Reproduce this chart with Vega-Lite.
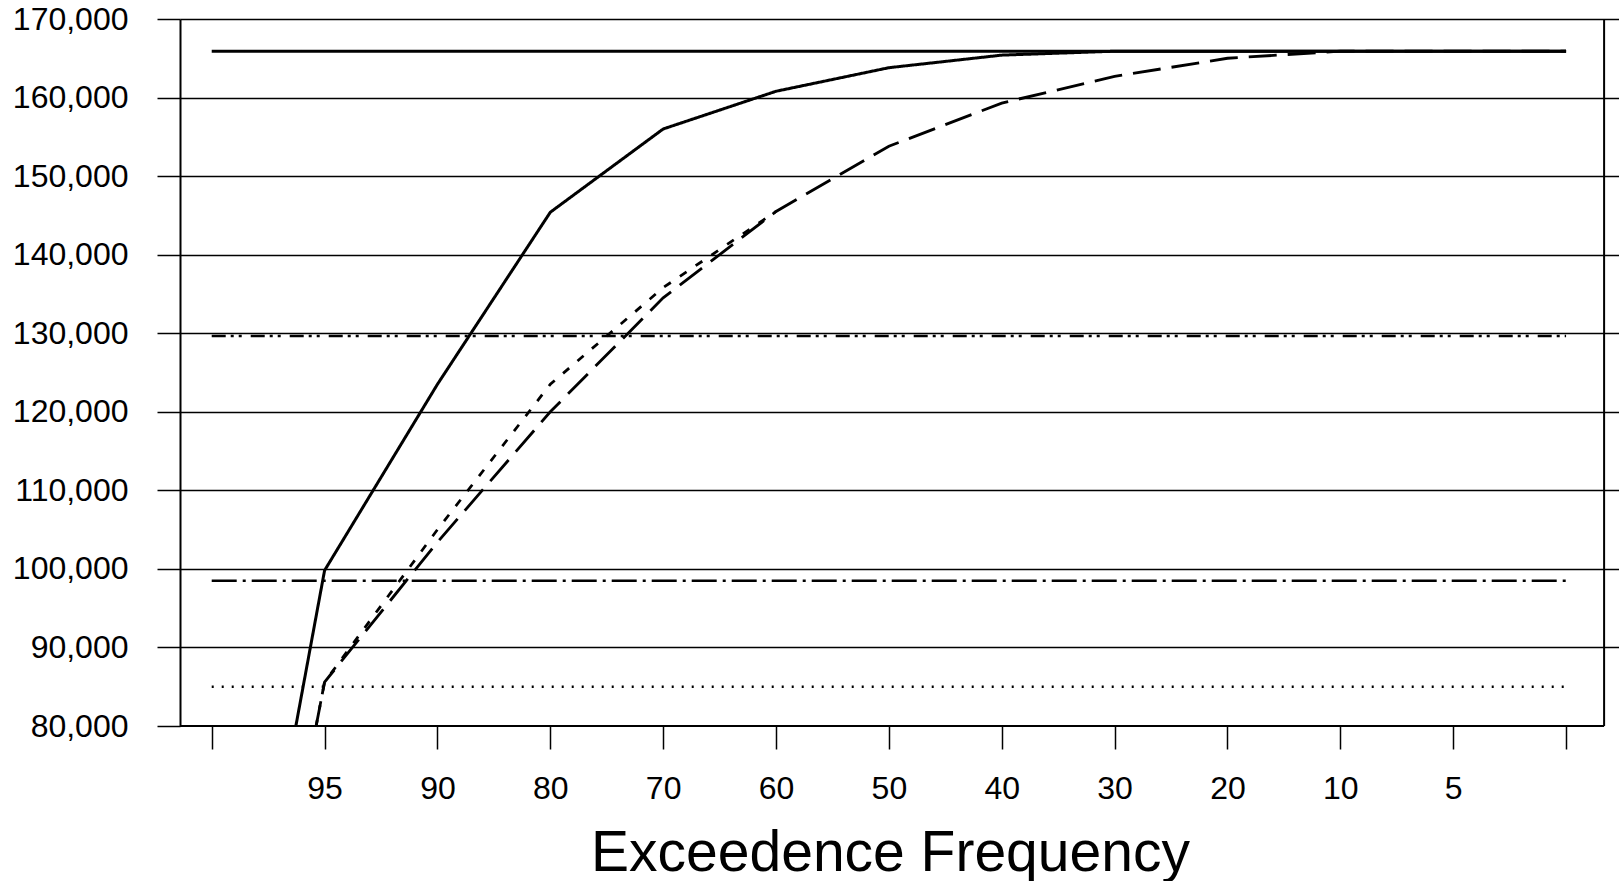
{
  "$schema": "https://vega.github.io/schema/vega-lite/v6.json",
  "width": 1439,
  "height": 707,
  "autosize": {"type": "none"},
  "padding": {"left": 180, "top": 19, "right": 0, "bottom": 155},
  "background": "white",
  "config": {"view": {"stroke": null}, "font": "Liberation Sans"},
  "datasets": {
    "curves": [
      {"series": "Solid", "idx": 0, "value": 22000},
      {"series": "Solid", "idx": 1, "value": 99800},
      {"series": "Solid", "idx": 2, "value": 123500},
      {"series": "Solid", "idx": 3, "value": 145400},
      {"series": "Solid", "idx": 4, "value": 156000},
      {"series": "Solid", "idx": 5, "value": 160800},
      {"series": "Solid", "idx": 6, "value": 163800},
      {"series": "Solid", "idx": 7, "value": 165400},
      {"series": "Solid", "idx": 8, "value": 165900},
      {"series": "Solid", "idx": 9, "value": 165900},
      {"series": "Solid", "idx": 10, "value": 165900},
      {"series": "Solid", "idx": 11, "value": 165900},
      {"series": "Solid", "idx": 12, "value": 165900},
      {"series": "LongDash", "idx": 0, "value": 10900},
      {"series": "LongDash", "idx": 1, "value": 85600},
      {"series": "LongDash", "idx": 2, "value": 103400},
      {"series": "LongDash", "idx": 3, "value": 120000},
      {"series": "LongDash", "idx": 4, "value": 134500},
      {"series": "LongDash", "idx": 5, "value": 145500},
      {"series": "LongDash", "idx": 6, "value": 153800},
      {"series": "LongDash", "idx": 7, "value": 159300},
      {"series": "LongDash", "idx": 8, "value": 162700},
      {"series": "LongDash", "idx": 9, "value": 165000},
      {"series": "LongDash", "idx": 10, "value": 165900},
      {"series": "LongDash", "idx": 11, "value": 165900},
      {"series": "LongDash", "idx": 12, "value": 165900},
      {"series": "ShortDash", "idx": 0, "value": 10900},
      {"series": "ShortDash", "idx": 1, "value": 85600},
      {"series": "ShortDash", "idx": 2, "value": 105000},
      {"series": "ShortDash", "idx": 3, "value": 123500},
      {"series": "ShortDash", "idx": 4, "value": 135800},
      {"series": "ShortDash", "idx": 5, "value": 145500},
      {"series": "Max", "idx": 0, "value": 165900},
      {"series": "Max", "idx": 12, "value": 165900},
      {"series": "Thick", "idx": 0, "value": 129650},
      {"series": "Thick", "idx": 12, "value": 129650},
      {"series": "DashDot", "idx": 0, "value": 98500},
      {"series": "DashDot", "idx": 12, "value": 98500},
      {"series": "Dotted", "idx": 0, "value": 85000},
      {"series": "Dotted", "idx": 12, "value": 85000}
    ]
  },
  "layer": [
    {
      "data": {"name": "curves"},
      "mark": {"type": "line", "clip": true, "color": "black"},
      "encoding": {
        "x": {
          "field": "idx",
          "type": "quantitative",
          "scale": {"domain": [-0.281, 12.469], "nice": false, "zero": false},
          "axis": {
            "values": [0, 1, 2, 3, 4, 5, 6, 7, 8, 9, 10, 11, 12],
            "labelExpr": "['','95','90','80','70','60','50','40','30','20','10','5',''][datum.value]",
            "labelFontSize": 32,
            "labelColor": "black",
            "labelPadding": 24,
            "labelFlush": false,
            "labelOverlap": false,
            "tickSize": 23,
            "tickColor": "black",
            "tickWidth": 1.5,
            "domain": false,
            "grid": false,
            "title": "Exceedence Frequency",
            "titleFontSize": 57,
            "titleFontWeight": "normal",
            "titleColor": "black",
            "titleX": 710,
            "titleY": 144,
            "titleAlign": "center",
            "titleBaseline": "alphabetic"
          }
        },
        "y": {
          "field": "value",
          "type": "quantitative",
          "scale": {"domain": [80000, 170000], "nice": false, "zero": false},
          "axis": {
            "values": [80000, 90000, 100000, 110000, 120000, 130000, 140000, 150000, 160000, 170000],
            "format": ",d",
            "labelFontSize": 32,
            "labelColor": "black",
            "labelPadding": 29,
            "labelFlush": false,
            "labelOverlap": false,
            "tickSize": 23,
            "tickColor": "black",
            "tickWidth": 1.5,
            "domainColor": "black",
            "domainWidth": 2,
            "grid": true,
            "gridColor": "black",
            "gridWidth": 1.5,
            "gridOpacity": {"condition": {"test": "datum.value === 80000", "value": 0}, "value": 1},
            "title": null
          }
        },
        "detail": {"field": "series", "type": "nominal"},
        "order": {"field": "idx", "type": "quantitative"},
        "strokeDash": {
          "field": "series",
          "type": "nominal",
          "scale": {
            "domain": ["Solid", "Max", "LongDash", "ShortDash", "Thick", "DashDot", "Dotted"],
            "range": [[1, 0], [1, 0], [28, 11], [8, 11], [14, 5, 3, 5, 3, 9], [25, 6, 3, 6], [2, 8]]
          },
          "legend": null
        },
        "strokeWidth": {
          "field": "series",
          "type": "nominal",
          "scale": {
            "domain": ["Solid", "Max", "LongDash", "ShortDash", "Thick", "DashDot", "Dotted"],
            "range": [3, 2.5, 3, 3, 3.5, 2.5, 2]
          },
          "legend": null
        }
      }
    },
    {
      "data": {"values": [{}]},
      "mark": {"type": "rule", "color": "black", "strokeWidth": 2},
      "encoding": {
        "x": {"datum": 12.337, "type": "quantitative"},
        "y": {"datum": 80000, "type": "quantitative"},
        "y2": {"datum": 170000}
      }
    },
    {
      "data": {"values": [{}]},
      "mark": {"type": "rule", "color": "black", "strokeWidth": 2},
      "encoding": {
        "x": {"datum": -0.281, "type": "quantitative"},
        "x2": {"datum": 12.337},
        "y": {"datum": 80000, "type": "quantitative"}
      }
    }
  ]
}
